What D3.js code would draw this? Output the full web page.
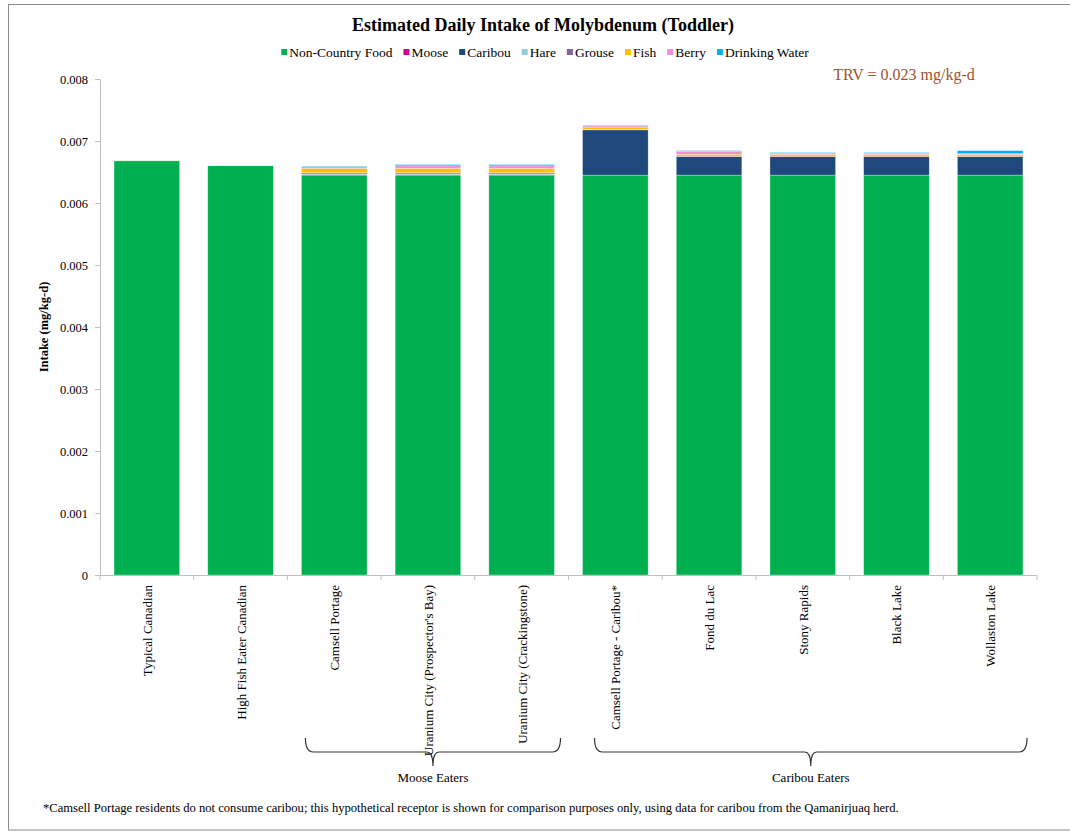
<!DOCTYPE html>
<html><head><meta charset="utf-8">
<script src="https://cdn.jsdelivr.net/npm/d3@7"></script>
<style>body{margin:0;background:#fff}svg text{font-family:"Liberation Serif","Times New Roman",serif !important}</style>
</head><body><svg id="c" width="1070" height="833"></svg>
<script>
const categories = ["Typical Canadian","High Fish Eater Canadian","Camsell Portage","Uranium City (Prospector's Bay)","Uranium City (Crackingstone)","Camsell Portage - Caribou*","Fond du Lac","Stony Rapids","Black Lake","Wollaston Lake"];
const seriesNames = ["Non-Country Food","Moose","Caribou","Hare","Grouse","Fish","Berry","Drinking Water"];
const seriesColors = ["#00B050","#CC0099","#1F497D","#92CDDC","#8064A2","#FFC000","#F28FDC","#00B0F0"];
const nonCountry = [0.00668,0.00660,0.00645,0.00645,0.00645,0.00645,0.00645,0.00645,0.00645,0.00645];
const moose      = [0,0,0.00001,0.00001,0.00001,0,0,0,0,0];
const caribou    = [0,0,0,0,0,0.00073,0.00030,0.00030,0.00030,0.00030];
const hare       = [0,0,0.00001,0.00001,0.00001,0,0,0,0,0];
const grouse     = [0,0,0.00002,0.00002,0.00002,0.000005,0.000005,0.000005,0.000005,0.000005];
const fish       = [0,0,0.00007,0.00007,0.00007,0.00004,0.00003,0.00003,0.00003,0.00003];
const berry      = [0,0,0.00001,0.00004,0.00004,0.00002,0.00005,0.00002,0.00002,0.00001];
const water      = [0,0,0.00002,0.00002,0.00002,0.00001,0.00001,0.00001,0.00001,0.00005];
const yTicks = [0,0.001,0.002,0.003,0.004,0.005,0.006,0.007,0.008];
const groups = [{name:"Moose Eaters",from:2,to:4},{name:"Caribou Eaters",from:5,to:9}];

const FONT = "Liberation Serif";
const seriesData = [nonCountry,moose,caribou,hare,grouse,fish,berry,water];
const rows = categories.map((c,i)=>{const r={cat:c};seriesNames.forEach((s,j)=>r[s]=seriesData[j][i]);return r;});
const stack = d3.stack().keys(seriesNames)(rows);

const svg = d3.select("#c").attr("font-family",FONT);
svg.append("rect").attr("x",8.5).attr("y",4.5).attr("width",1080).attr("height",825.5)
  .attr("fill","none").attr("stroke","#8c8c8c").attr("stroke-width",1);

const L=100,R=1037,T=79,B=575;
const x = d3.scaleBand().domain(categories).range([L,R]).paddingInner(0.3).paddingOuter(0.15);
const xb = d3.scaleBand().domain(categories).range([L,R]);
const y = d3.scaleLinear().domain([0,0.008]).range([B,T]);

// title
svg.append("text").attr("x",543).attr("y",31).attr("text-anchor","middle")
  .attr("font-size",18).attr("font-weight","bold").text("Estimated Daily Intake of Molybdenum (Toddler)");

// legend
const lg = svg.append("g");
let lx = 0;
seriesNames.forEach((s,i)=>{
  const g = lg.append("g").attr("transform",`translate(${lx},0)`);
  g.append("rect").attr("x",0).attr("y",-8).attr("width",6).attr("height",6).attr("fill",seriesColors[i]);
  const t = g.append("text").attr("x",8).attr("y",0).attr("font-size",13.5).text(s);
  lx += 8 + t.node().getComputedTextLength() + 11;
});
lg.attr("transform",`translate(${545 - (lx-11)/2},57)`);

// TRV
svg.append("text").attr("x",904).attr("y",80).attr("text-anchor","middle").attr("font-size",16)
  .attr("fill","#A0522D").text("TRV = 0.023 mg/kg-d");

// bars
svg.append("g").selectAll("g").data(stack).join("g").attr("fill",(d,i)=>seriesColors[i])
  .selectAll("rect").data(d=>d).join("rect")
  .attr("x",d=>x(d.data.cat)).attr("width",x.bandwidth())
  .attr("y",d=>y(d[1])).attr("height",d=>Math.max(0,y(d[0])-y(d[1])))
  .attr("stroke","rgba(255,255,255,0.5)").attr("stroke-width",0.6);

// y axis
const ya = svg.append("g").attr("transform",`translate(${L},0)`)
  .call(d3.axisLeft(y).tickValues(yTicks).tickSize(5).tickSizeOuter(0).tickFormat(d=>d===0?"0":d3.format(".3f")(d)));
ya.attr("font-family",FONT);
ya.select(".domain").attr("stroke","#bfbfbf");
ya.selectAll(".tick line").attr("stroke","#bfbfbf");
ya.selectAll("text").attr("font-family",FONT).attr("font-size",12.5).attr("fill","#000").attr("x",-12);

// x axis
svg.append("line").attr("x1",L).attr("x2",R).attr("y1",B+0.5).attr("y2",B+0.5).attr("stroke","#bfbfbf");
svg.append("g").selectAll("line").data(categories.concat(["__end"])).join("line")
  .attr("x1",(d,i)=>L+i*xb.bandwidth()).attr("x2",(d,i)=>L+i*xb.bandwidth())
  .attr("y1",B).attr("y2",B+5).attr("stroke","#bfbfbf");
svg.append("g").selectAll("text").data(categories).join("text")
  .attr("transform",d=>`translate(${x(d)+x.bandwidth()/2+5},585) rotate(-90)`)
  .attr("text-anchor","end").attr("font-size",13).text(d=>d);

// y label
svg.append("text").attr("transform","translate(48,327) rotate(-90)").attr("text-anchor","middle")
  .attr("font-size",12.5).attr("font-weight","bold").text("Intake (mg/kg-d)");

// group brackets
const brOff = [{l:18,r:-8},{l:26,r:-10}];
groups.forEach((g,i)=>{
  const x0 = xb(categories[g.from]) + brOff[i].l;
  const x1 = xb(categories[g.to]) + xb.bandwidth() + brOff[i].r;
  const xm = (x0+x1)/2, yt=738, yb=752, yc=766;
  const p = `M${x0},${yt} Q${x0},${yb} ${x0+8},${yb} L${xm-6},${yb} Q${xm},${yb} ${xm},${yc} Q${xm},${yb} ${xm+6},${yb} L${x1-8},${yb} Q${x1},${yb} ${x1},${yt}`;
  svg.append("path").attr("d",p).attr("fill","none").attr("stroke","#333").attr("stroke-width",1.2);
  svg.append("text").attr("x",xm).attr("y",782).attr("text-anchor","middle").attr("font-size",13).text(g.name);
});

// footnote
svg.append("text").attr("x",43).attr("y",812).attr("font-size",12.6)
  .text("*Camsell Portage residents do not consume caribou; this hypothetical receptor is shown for comparison purposes only, using data for caribou from the Qamanirjuaq herd.");
</script></body></html>
